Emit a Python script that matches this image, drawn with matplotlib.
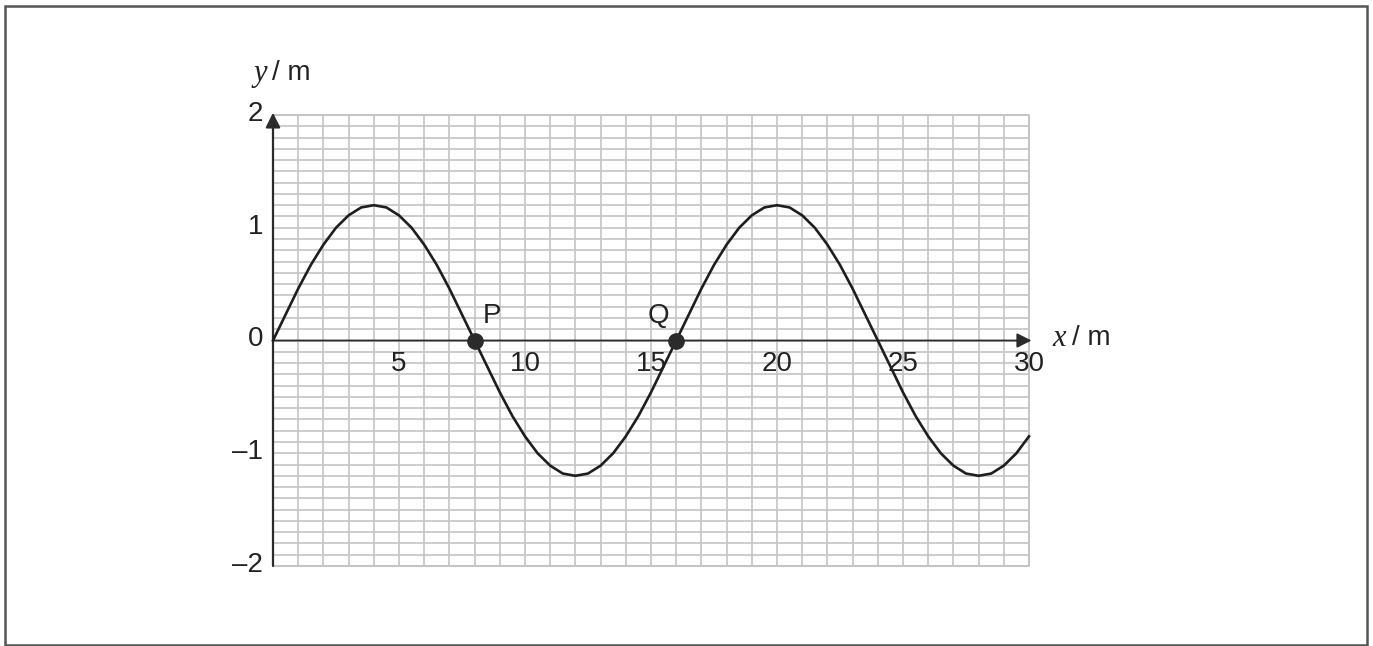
import matplotlib.pyplot as plt
import matplotlib.patches as patches
import numpy as np

# wave displacement (x in m, y in m)
x_pos = [0, 0.5, 1, 1.5, 2, 2.5, 3, 3.5, 4, 4.5, 5, 5.5, 6, 6.5, 7, 7.5,
         8, 8.5, 9, 9.5, 10, 10.5, 11, 11.5, 12, 12.5, 13, 13.5, 14, 14.5,
         15, 15.5, 16, 16.5, 17, 17.5, 18, 18.5, 19, 19.5, 20, 20.5, 21,
         21.5, 22, 22.5, 23, 23.5, 24, 24.5, 25, 25.5, 26, 26.5, 27, 27.5,
         28, 28.5, 29, 29.5, 30]
y_disp = [0, 0.23, 0.46, 0.67, 0.85, 1.00, 1.11, 1.18, 1.20,
          1.18, 1.11, 1.00, 0.85, 0.67, 0.46, 0.23, 0,
          -0.23, -0.46, -0.67, -0.85, -1.00, -1.11, -1.18, -1.20,
          -1.18, -1.11, -1.00, -0.85, -0.67, -0.46, -0.23, 0,
          0.23, 0.46, 0.67, 0.85, 1.00, 1.11, 1.18, 1.20,
          1.18, 1.11, 1.00, 0.85, 0.67, 0.46, 0.23, 0,
          -0.23, -0.46, -0.67, -0.85, -1.00, -1.11, -1.18, -1.20,
          -1.18, -1.11, -1.00, -0.85]

x_ticks = [5, 10, 15, 20, 25, 30]
y_ticks = [2, 1, 0, -1, -2]
y_tick_labels = ['2', '1', '0', '\u20131', '\u20132']

points = {'P': (8, 0), 'Q': (16, 0)}
label_pos = {'P': (8.7, 0.22), 'Q': (15.3, 0.22)}

plt.rcParams['font.family'] = ['Liberation Sans', 'DejaVu Sans']
dark = '#2b2b2b'
gridc = '#c4c4c4'
fs = 20

fig = plt.figure(figsize=(13.73, 6.46), dpi=100)
ax = fig.add_axes([273 / 1373, 80 / 646, 756 / 1373, 451 / 646])
ax.set_xlim(0, 30)
ax.set_ylim(-2, 2)

# graph paper grid
ax.set_xticks(np.arange(0, 31, 1))
ax.set_yticks(np.linspace(-2, 2, 41))
ax.grid(True, color=gridc, lw=1.2)
ax.tick_params(length=0, labelbottom=False, labelleft=False)
for s in ax.spines.values():
    s.set_visible(False)
ax.plot([0, 30, 30, 0], [-2, -2, 2, 2], color=gridc, lw=1.4, clip_on=False)

# axes with arrows
ax.annotate('', xy=(0, 2.02), xytext=(0, -2),
            arrowprops=dict(arrowstyle='-|>', color=dark, lw=1.6,
                            mutation_scale=22, shrinkA=0, shrinkB=0),
            annotation_clip=False)
ax.annotate('', xy=(30.1, 0), xytext=(0, 0),
            arrowprops=dict(arrowstyle='-|>', color=dark, lw=1.3,
                            mutation_scale=22, shrinkA=0, shrinkB=0),
            annotation_clip=False)

# the wave
ax.plot(x_pos, y_disp, color='#1e1e1e', lw=1.9, zorder=5, clip_on=False)

for name, (px, py) in points.items():
    ax.plot(px, py, 'o', color=dark, markersize=11, zorder=6)
    lx, ly = label_pos[name]
    ax.text(lx, ly, name, fontsize=fs, ha='center', va='center', color='#222')

for v in x_ticks:
    ax.text(v, -0.21, str(v), fontsize=fs, ha='center', va='center', color='#222')
for v, lab in zip(y_ticks, y_tick_labels):
    ax.text(-0.4, v + 0.01, lab, fontsize=fs, ha='right', va='center', color='#222')

# axis titles
ax.text(-0.22, 2.37, 'y', fontsize=fs + 2, family='Liberation Serif',
        style='italic', ha='right', va='center', color='#222')
ax.text(-0.02, 2.37, '/ m', fontsize=fs, ha='left', va='center', color='#222')
ax.text(31.45, 0.02, 'x', fontsize=fs + 2, family='Liberation Serif',
        style='italic', ha='right', va='center', color='#222')
ax.text(31.7, 0.02, '/ m', fontsize=fs, ha='left', va='center', color='#222')

# outer frame
fig.patches.append(patches.Rectangle((5 / 1373, 1 / 646), 1362 / 1373, 639 / 646,
                                     transform=fig.transFigure, fill=False,
                                     edgecolor='#555555', lw=1.8))

plt.savefig('out.png', dpi=100)
